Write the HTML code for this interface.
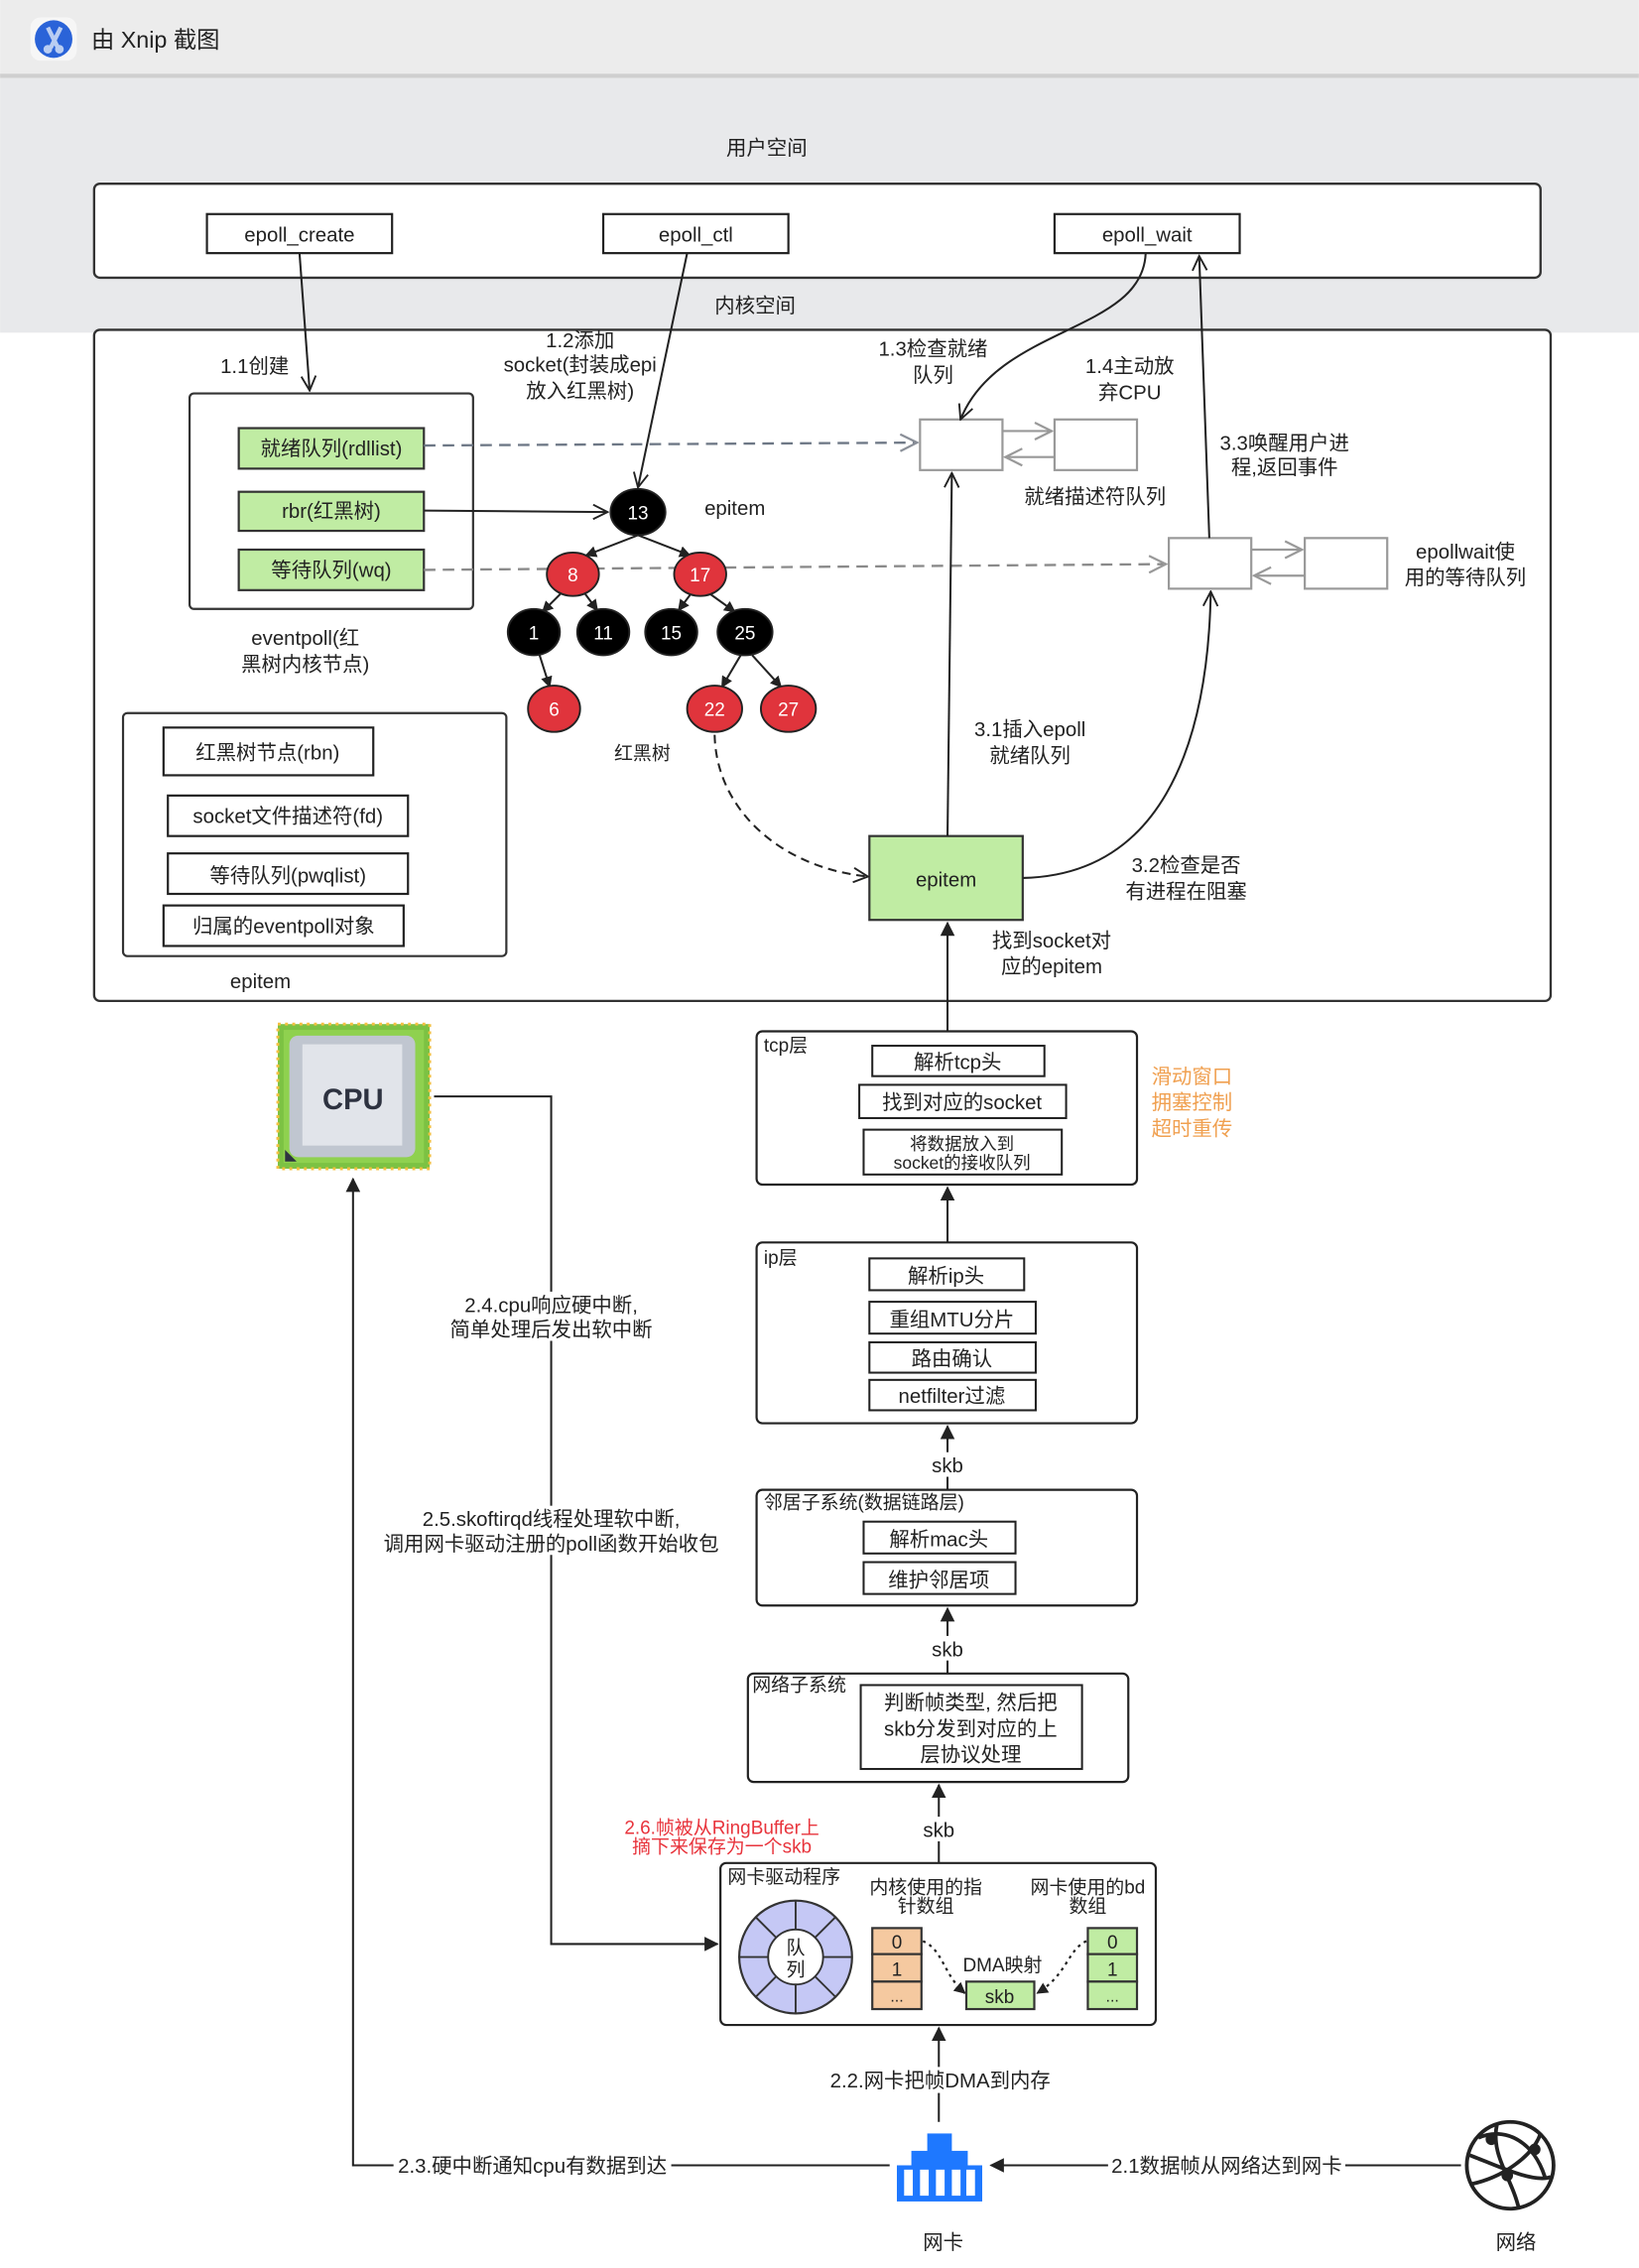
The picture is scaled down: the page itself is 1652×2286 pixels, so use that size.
<!DOCTYPE html>
<html><head><meta charset="utf-8"><style>
html,body{margin:0;padding:0;background:#fff;}
svg{display:block}
text{font-family:"Liberation Sans","Noto Sans CJK SC",sans-serif;fill:#222;}
</style></head><body>
<svg width="1652" height="2286" viewBox="0 0 1133 1568" xmlns="http://www.w3.org/2000/svg">
<defs>
<marker id="o" viewBox="0 0 12 12" refX="11" refY="6" markerWidth="12" markerHeight="12" markerUnits="userSpaceOnUse" orient="auto"><path d="M1,1 L11,6 L1,11" fill="none" stroke="#222" stroke-width="1.3"/></marker>
<marker id="og" viewBox="0 0 12 12" refX="11" refY="6" markerWidth="14" markerHeight="14" markerUnits="userSpaceOnUse" orient="auto"><path d="M1,1 L11,6 L1,11" fill="none" stroke="#8a8f98" stroke-width="1.3"/></marker>
<marker id="ogr" viewBox="0 0 12 12" refX="11" refY="6" markerWidth="14" markerHeight="14" markerUnits="userSpaceOnUse" orient="auto"><path d="M1,1 L11,6 L1,11" fill="none" stroke="#999" stroke-width="1.3"/></marker>
<marker id="f" viewBox="0 0 10 10" refX="9" refY="5" markerWidth="10" markerHeight="10" markerUnits="userSpaceOnUse" orient="auto"><path d="M0,0 L10,5 L0,10 z" fill="#222"/></marker>
<marker id="fs" viewBox="0 0 10 10" refX="9" refY="5" markerWidth="8" markerHeight="8" markerUnits="userSpaceOnUse" orient="auto"><path d="M0,0 L10,5 L0,10 z" fill="#222"/></marker>
</defs>
<!-- backgrounds -->
<rect x="0" y="0" width="1133" height="52" fill="#ececec"/>
<rect x="0" y="51" width="1133" height="3" fill="#cfcfcf"/>
<rect x="0" y="54" width="1133" height="176" fill="#e8e9eb"/>
<rect x="21" y="12" width="32" height="30" rx="7" fill="#f6f6f6"/>
<circle cx="37" cy="27" r="13" fill="#2a63d8"/>
<path d="M33,19 L40,33 M42,19 L35,33" stroke="#b9cdf2" stroke-width="3"/>
<circle cx="33" cy="34" r="3" fill="#b9cdf2"/><circle cx="41" cy="34" r="3" fill="#b9cdf2"/>
<text x="63" y="33" font-size="16">由 Xnip 截图</text>

<text x="530" y="107" font-size="14" text-anchor="middle">用户空间</text>
<rect x="65" y="127" width="1000" height="65" rx="4" fill="#fff" stroke="#333" stroke-width="1.6"/>
<rect x="143" y="148" width="128" height="27" fill="#fff" stroke="#222" stroke-width="1.5"/>
<text x="207" y="167" font-size="14" text-anchor="middle">epoll_create</text>
<rect x="417" y="148" width="128" height="27" fill="#fff" stroke="#222" stroke-width="1.5"/>
<text x="481" y="167" font-size="14" text-anchor="middle">epoll_ctl</text>
<rect x="729" y="148" width="128" height="27" fill="#fff" stroke="#222" stroke-width="1.5"/>
<text x="793" y="167" font-size="14" text-anchor="middle">epoll_wait</text>
<text x="522" y="216" font-size="14" text-anchor="middle">内核空间</text>
<rect x="65" y="228" width="1007" height="464" rx="4" fill="#fff" stroke="#333" stroke-width="1.6"/>

<!-- eventpoll -->
<rect x="131" y="272" width="196" height="149" rx="3" fill="#fff" stroke="#333" stroke-width="1.5"/>
<rect x="165" y="296" width="128" height="28" fill="#c0eca3" stroke="#333" stroke-width="1.5"/>
<text x="229" y="315" font-size="14" text-anchor="middle">就绪队列(rdllist)</text>
<rect x="165" y="340" width="128" height="27" fill="#c0eca3" stroke="#333" stroke-width="1.5"/>
<text x="229" y="358" font-size="14" text-anchor="middle">rbr(红黑树)</text>
<rect x="165" y="380" width="128" height="28" fill="#c0eca3" stroke="#333" stroke-width="1.5"/>
<text x="229" y="399" font-size="14" text-anchor="middle">等待队列(wq)</text>
<text x="211" y="446" font-size="14" text-anchor="middle">eventpoll(红</text>
<text x="211" y="464" font-size="14" text-anchor="middle">黑树内核节点)</text>

<!-- epitem struct -->
<rect x="85" y="493" width="265" height="168" rx="3" fill="#fff" stroke="#333" stroke-width="1.5"/>
<rect x="113" y="503" width="145" height="33" fill="#fff" stroke="#222" stroke-width="1.5"/>
<text x="185" y="525" font-size="14" text-anchor="middle">红黑树节点(rbn)</text>
<rect x="116" y="550" width="166" height="28" fill="#fff" stroke="#222" stroke-width="1.5"/>
<text x="199" y="569" font-size="14" text-anchor="middle">socket文件描述符(fd)</text>
<rect x="116" y="590" width="166" height="28" fill="#fff" stroke="#222" stroke-width="1.5"/>
<text x="199" y="610" font-size="14" text-anchor="middle">等待队列(pwqlist)</text>
<rect x="113" y="626" width="166" height="28" fill="#fff" stroke="#222" stroke-width="1.5"/>
<text x="196" y="645" font-size="14" text-anchor="middle">归属的eventpoll对象</text>
<text x="180" y="683" font-size="14" text-anchor="middle">epitem</text>

<!-- tree edges -->
<g stroke="#222" stroke-width="1.4" fill="none">
<line x1="441" y1="370" x2="405" y2="384" marker-end="url(#fs)"/>
<line x1="441" y1="370" x2="477" y2="384" marker-end="url(#fs)"/>
<line x1="388" y1="410" x2="375" y2="423" marker-end="url(#fs)"/>
<line x1="404" y1="410" x2="413" y2="422" marker-end="url(#fs)"/>
<line x1="478" y1="410" x2="469" y2="422" marker-end="url(#fs)"/>
<line x1="490" y1="410" x2="508" y2="423" marker-end="url(#fs)"/>
<line x1="373" y1="453" x2="380" y2="475" marker-end="url(#fs)"/>
<line x1="512" y1="453" x2="499" y2="475" marker-end="url(#fs)"/>
<line x1="520" y1="453" x2="540" y2="475" marker-end="url(#fs)"/>
</g>
<!-- dashed lines -->
<line x1="293" y1="308" x2="634" y2="306" stroke="#6e7886" stroke-width="1.6" stroke-dasharray="8,5" marker-end="url(#og)"/>
<line x1="293" y1="394" x2="806" y2="390" stroke="#8a8a8a" stroke-width="1.6" stroke-dasharray="8,5" marker-end="url(#ogr)"/>
<line x1="293" y1="353" x2="420" y2="354" stroke="#222" stroke-width="1.4" marker-end="url(#o)"/>
<!-- nodes -->
<g font-size="13" text-anchor="middle" stroke="#222" stroke-width="1.3">
<ellipse cx="441" cy="354" rx="19" ry="16" fill="#000"/>
<ellipse cx="396" cy="397" rx="18" ry="15" fill="#e0343c"/>
<ellipse cx="484" cy="397" rx="18" ry="15" fill="#e0343c"/>
<ellipse cx="369" cy="437" rx="18" ry="16" fill="#000"/>
<ellipse cx="417" cy="437" rx="18" ry="16" fill="#000"/>
<ellipse cx="464" cy="437" rx="18" ry="16" fill="#000"/>
<ellipse cx="515" cy="437" rx="19" ry="16" fill="#000"/>
<ellipse cx="383" cy="490" rx="18" ry="16" fill="#e0343c"/>
<ellipse cx="494" cy="490" rx="19" ry="16" fill="#e0343c"/>
<ellipse cx="545" cy="490" rx="19" ry="16" fill="#e0343c"/>
</g>
<g font-size="13" text-anchor="middle" style="fill:#fff">
<text x="441" y="359" style="fill:#fff">13</text><text x="396" y="402" style="fill:#fff">8</text><text x="484" y="402" style="fill:#fff">17</text>
<text x="369" y="442" style="fill:#fff">1</text><text x="417" y="442" style="fill:#fff">11</text><text x="464" y="442" style="fill:#fff">15</text><text x="515" y="442" style="fill:#fff">25</text>
<text x="383" y="495" style="fill:#fff">6</text><text x="494" y="495" style="fill:#fff">22</text><text x="545" y="495" style="fill:#fff">27</text>
</g>
<text x="508" y="356" font-size="14" text-anchor="middle">epitem</text>
<text x="444" y="525" font-size="13" text-anchor="middle">红黑树</text>

<!-- ready queue -->
<rect x="636" y="290" width="57" height="35" fill="#fff" stroke="#999" stroke-width="1.5"/>
<rect x="729" y="290" width="57" height="35" fill="#fff" stroke="#999" stroke-width="1.5"/>
<line x1="693" y1="298" x2="727" y2="298" stroke="#999" stroke-width="1.5" marker-end="url(#ogr)"/>
<line x1="729" y1="316" x2="695" y2="316" stroke="#999" stroke-width="1.5" marker-end="url(#ogr)"/>
<text x="757" y="348" font-size="14" text-anchor="middle">就绪描述符队列</text>
<rect x="808" y="372" width="57" height="35" fill="#fff" stroke="#999" stroke-width="1.5"/>
<rect x="902" y="372" width="57" height="35" fill="#fff" stroke="#999" stroke-width="1.5"/>
<line x1="865" y1="380" x2="900" y2="380" stroke="#999" stroke-width="1.5" marker-end="url(#ogr)"/>
<line x1="902" y1="398" x2="867" y2="398" stroke="#999" stroke-width="1.5" marker-end="url(#ogr)"/>
<text x="1013" y="386" font-size="14" text-anchor="middle">epollwait使</text>
<text x="1013" y="404" font-size="14" text-anchor="middle">用的等待队列</text>

<!-- green epitem -->
<rect x="601" y="578" width="106" height="58" fill="#c0eca3" stroke="#333" stroke-width="1.5"/>
<text x="654" y="613" font-size="14" text-anchor="middle">epitem</text>

<!-- connectors -->
<g stroke="#222" stroke-width="1.4" fill="none">
<line x1="207" y1="175" x2="214" y2="270" marker-end="url(#o)"/>
<line x1="475" y1="175" x2="441" y2="337" marker-end="url(#o)"/>
<path d="M792,175 C790,230 690,225 664,290" marker-end="url(#o)"/>
<line x1="655" y1="578" x2="658" y2="327" marker-end="url(#o)"/>
<path d="M707,607 C800,605 835,520 837,409" marker-end="url(#o)"/>
<line x1="836" y1="372" x2="829" y2="177" marker-end="url(#o)"/>
<path d="M494,508 C495,560 540,600 600,606" stroke-dasharray="6,4" marker-end="url(#o)"/>
</g>
<text x="176" y="258" font-size="14" text-anchor="middle">1.1创建</text>
<text x="401" y="240" font-size="14" text-anchor="middle">1.2添加</text>
<text x="401" y="257" font-size="14" text-anchor="middle">socket(封装成epi</text>
<text x="401" y="275" font-size="14" text-anchor="middle">放入红黑树)</text>
<text x="645" y="246" font-size="14" text-anchor="middle">1.3检查就绪</text>
<text x="645" y="264" font-size="14" text-anchor="middle">队列</text>
<text x="781" y="258" font-size="14" text-anchor="middle">1.4主动放</text>
<text x="781" y="276" font-size="14" text-anchor="middle">弃CPU</text>
<text x="888" y="311" font-size="14" text-anchor="middle">3.3唤醒用户进</text>
<text x="888" y="328" font-size="14" text-anchor="middle">程,返回事件</text>
<text x="712" y="509" font-size="14" text-anchor="middle">3.1插入epoll</text>
<text x="712" y="527" font-size="14" text-anchor="middle">就绪队列</text>
<text x="820" y="603" font-size="14" text-anchor="middle">3.2检查是否</text>
<text x="820" y="621" font-size="14" text-anchor="middle">有进程在阻塞</text>
<text x="727" y="655" font-size="14" text-anchor="middle">找到socket对</text>
<text x="727" y="673" font-size="14" text-anchor="middle">应的epitem</text>

<!-- tcp -->
<line x1="655" y1="713" x2="655" y2="638" stroke="#222" stroke-width="1.4" marker-end="url(#f)"/>
<rect x="523" y="713" width="263" height="106" rx="4" fill="#fff" stroke="#222" stroke-width="1.5"/>
<text x="528" y="727" font-size="13">tcp层</text>
<rect x="603" y="723" width="119" height="21" fill="#fff" stroke="#222" stroke-width="1.4"/>
<text x="662" y="739" font-size="14" text-anchor="middle">解析tcp头</text>
<rect x="594" y="750" width="143" height="23" fill="#fff" stroke="#222" stroke-width="1.4"/>
<text x="665" y="767" font-size="14" text-anchor="middle">找到对应的socket</text>
<rect x="597" y="781" width="137" height="31" fill="#fff" stroke="#222" stroke-width="1.4"/>
<text x="665" y="795" font-size="12" text-anchor="middle">将数据放入到</text>
<text x="665" y="808" font-size="12" text-anchor="middle">socket的接收队列</text>
<text x="796" y="749" font-size="14" style="fill:#f0a050">滑动窗口</text>
<text x="796" y="767" font-size="14" style="fill:#f0a050">拥塞控制</text>
<text x="796" y="785" font-size="14" style="fill:#f0a050">超时重传</text>

<!-- ip -->
<line x1="655" y1="859" x2="655" y2="821" stroke="#222" stroke-width="1.4" marker-end="url(#f)"/>
<rect x="523" y="859" width="263" height="125" rx="4" fill="#fff" stroke="#222" stroke-width="1.5"/>
<text x="528" y="874" font-size="13">ip层</text>
<rect x="601" y="870" width="107" height="22" fill="#fff" stroke="#222" stroke-width="1.4"/>
<text x="654" y="887" font-size="14" text-anchor="middle">解析ip头</text>
<rect x="601" y="900" width="115" height="22" fill="#fff" stroke="#222" stroke-width="1.4"/>
<text x="658" y="917" font-size="14" text-anchor="middle">重组MTU分片</text>
<rect x="601" y="928" width="115" height="21" fill="#fff" stroke="#222" stroke-width="1.4"/>
<text x="658" y="944" font-size="14" text-anchor="middle">路由确认</text>
<rect x="601" y="954" width="115" height="21" fill="#fff" stroke="#222" stroke-width="1.4"/>
<text x="658" y="970" font-size="14" text-anchor="middle">netfilter过滤</text>

<!-- neighbor -->
<line x1="655" y1="1030" x2="655" y2="986" stroke="#222" stroke-width="1.4" marker-end="url(#f)"/>
<rect x="640" y="1004" width="30" height="17" fill="#fff"/>
<text x="655" y="1018" font-size="14" text-anchor="middle">skb</text>
<rect x="523" y="1030" width="263" height="80" rx="4" fill="#fff" stroke="#222" stroke-width="1.5"/>
<text x="528" y="1043" font-size="13">邻居子系统(数据链路层)</text>
<rect x="597" y="1052" width="105" height="22" fill="#fff" stroke="#222" stroke-width="1.4"/>
<text x="649" y="1069" font-size="14" text-anchor="middle">解析mac头</text>
<rect x="597" y="1080" width="105" height="22" fill="#fff" stroke="#222" stroke-width="1.4"/>
<text x="649" y="1097" font-size="14" text-anchor="middle">维护邻居项</text>

<!-- net subsystem -->
<line x1="655" y1="1157" x2="655" y2="1112" stroke="#222" stroke-width="1.4" marker-end="url(#f)"/>
<rect x="640" y="1131" width="30" height="17" fill="#fff"/>
<text x="655" y="1145" font-size="14" text-anchor="middle">skb</text>
<rect x="517" y="1157" width="263" height="75" rx="4" fill="#fff" stroke="#222" stroke-width="1.5"/>
<text x="520" y="1169" font-size="13">网络子系统</text>
<rect x="595" y="1165" width="153" height="58" fill="#fff" stroke="#222" stroke-width="1.4"/>
<text x="671" y="1182" font-size="14" text-anchor="middle">判断帧类型, 然后把</text>
<text x="671" y="1200" font-size="14" text-anchor="middle">skb分发到对应的上</text>
<text x="671" y="1218" font-size="14" text-anchor="middle">层协议处理</text>

<!-- driver -->
<line x1="649" y1="1288" x2="649" y2="1234" stroke="#222" stroke-width="1.4" marker-end="url(#f)"/>
<rect x="634" y="1256" width="30" height="17" fill="#fff"/>
<text x="649" y="1270" font-size="14" text-anchor="middle">skb</text>
<text x="499" y="1268" font-size="13" text-anchor="middle" style="fill:#e8343c">2.6.帧被从RingBuffer上</text>
<text x="499" y="1281" font-size="13" text-anchor="middle" style="fill:#e8343c">摘下来保存为一个skb</text>
<rect x="498" y="1288" width="301" height="112" rx="4" fill="#fff" stroke="#222" stroke-width="1.5"/>
<text x="503" y="1302" font-size="13">网卡驱动程序</text>
<text x="640" y="1309" font-size="13" text-anchor="middle">内核使用的指</text>
<text x="640" y="1322" font-size="13" text-anchor="middle">针数组</text>
<text x="752" y="1309" font-size="13" text-anchor="middle">网卡使用的bd</text>
<text x="752" y="1322" font-size="13" text-anchor="middle">数组</text>
<circle cx="550" cy="1353" r="39" fill="#c5c8f5" stroke="#333" stroke-width="1.5"/>
<g stroke="#333" stroke-width="1.3">
<line x1="550" y1="1314" x2="550" y2="1392"/><line x1="511" y1="1353" x2="589" y2="1353"/>
<line x1="522" y1="1325" x2="578" y2="1381"/><line x1="578" y1="1325" x2="522" y2="1381"/>
</g>
<circle cx="550" cy="1353" r="19" fill="#fff" stroke="#333" stroke-width="1.3"/>
<text x="550" y="1351" font-size="13" text-anchor="middle">队</text>
<text x="550" y="1366" font-size="13" text-anchor="middle">列</text>
<g stroke="#333" stroke-width="1.5">
<rect x="603" y="1333" width="34" height="18" fill="#f5c9a0"/><rect x="603" y="1351" width="34" height="19" fill="#f5c9a0"/><rect x="603" y="1370" width="34" height="19" fill="#f5c9a0"/>
<rect x="752" y="1333" width="34" height="18" fill="#c0eca3"/><rect x="752" y="1351" width="34" height="19" fill="#c0eca3"/><rect x="752" y="1370" width="34" height="19" fill="#c0eca3"/>
<rect x="668" y="1370" width="47" height="19" fill="#c0eca3"/>
</g>
<text x="620" y="1347" font-size="13" text-anchor="middle">0</text><text x="620" y="1366" font-size="13" text-anchor="middle">1</text><text x="620" y="1384" font-size="11" text-anchor="middle">...</text>
<text x="769" y="1347" font-size="13" text-anchor="middle">0</text><text x="769" y="1366" font-size="13" text-anchor="middle">1</text><text x="769" y="1384" font-size="11" text-anchor="middle">...</text>
<text x="691" y="1385" font-size="13" text-anchor="middle">skb</text>
<text x="693" y="1363" font-size="13" text-anchor="middle">DMA映射</text>
<path d="M638,1342 C652,1348 652,1365 667,1378" fill="none" stroke="#222" stroke-width="1.5" stroke-dasharray="2,3" marker-end="url(#fs)"/>
<path d="M751,1342 C738,1348 738,1365 717,1378" fill="none" stroke="#222" stroke-width="1.5" stroke-dasharray="2,3" marker-end="url(#fs)"/>

<!-- DMA -->
<line x1="649" y1="1467" x2="649" y2="1402" stroke="#222" stroke-width="1.4" marker-end="url(#f)"/>
<rect x="570" y="1429" width="160" height="18" fill="#fff"/>
<text x="650" y="1443" font-size="14" text-anchor="middle">2.2.网卡把帧DMA到内存</text>

<!-- NIC -->
<rect x="641" y="1475" width="17" height="13" fill="#1e78ff"/>
<rect x="630" y="1487" width="39" height="11" fill="#1e78ff"/>
<rect x="620" y="1497" width="59" height="25" fill="#1e78ff"/>
<g fill="#fff"><rect x="625" y="1500" width="6" height="18"/><rect x="636" y="1500" width="6" height="18"/><rect x="647" y="1500" width="6" height="18"/><rect x="658" y="1500" width="6" height="18"/><rect x="668" y="1500" width="6" height="18"/></g>
<text x="652" y="1555" font-size="14" text-anchor="middle">网卡</text>
<!-- globe -->
<g fill="none" stroke="#222" stroke-width="2.6">
<circle cx="1044" cy="1497" r="30"/>
<path d="M1016,1490 C1030,1495 1060,1510 1072,1505"/>
<path d="M1017,1510 C1040,1505 1060,1490 1065,1475"/>
<path d="M1035,1468 C1030,1490 1045,1505 1050,1527"/>
<path d="M1022,1478 C1040,1470 1060,1480 1068,1505"/>
</g>
<circle cx="1031" cy="1479" r="4" fill="#222"/><circle cx="1061" cy="1486" r="4" fill="#222"/><circle cx="1042" cy="1504" r="4" fill="#222"/>
<text x="1048" y="1555" font-size="14" text-anchor="middle">网络</text>

<line x1="1010" y1="1497" x2="685" y2="1497" stroke="#222" stroke-width="1.4" marker-end="url(#f)"/>
<rect x="766" y="1488" width="164" height="18" fill="#fff"/>
<text x="848" y="1502" font-size="14" text-anchor="middle">2.1数据帧从网络达到网卡</text>
<polyline points="615,1497 244,1497 244,815" fill="none" stroke="#222" stroke-width="1.4" marker-end="url(#f)"/>
<rect x="272" y="1488" width="192" height="18" fill="#fff"/>
<text x="368" y="1502" font-size="14" text-anchor="middle">2.3.硬中断通知cpu有数据到达</text>

<!-- CPU -->
<rect x="192" y="708" width="105" height="100" fill="#7cc243" stroke="#f5c042" stroke-width="2" stroke-dasharray="2,3"/>
<rect x="196" y="712" width="97" height="92" fill="#8fd14f"/>
<rect x="200" y="716" width="87" height="84" rx="6" fill="#c0c6d0"/>
<rect x="209" y="722" width="69" height="70" fill="#e1e4ea"/>
<path d="M197,795 L197,803 L205,803 z" fill="#2d3240"/>
<text x="244" y="767" font-size="20" font-weight="bold" text-anchor="middle" style="fill:#2d3240">CPU</text>
<polyline points="300,758 381,758 381,1344 496,1344" fill="none" stroke="#222" stroke-width="1.4" marker-end="url(#f)"/>
<rect x="308" y="893" width="148" height="34" fill="#fff"/>
<text x="381" y="907" font-size="14" text-anchor="middle">2.4.cpu响应硬中断,</text>
<text x="381" y="924" font-size="14" text-anchor="middle">简单处理后发出软中断</text>
<rect x="260" y="1041" width="244" height="34" fill="#fff"/>
<text x="381" y="1055" font-size="14" text-anchor="middle">2.5.skoftirqd线程处理软中断,</text>
<text x="381" y="1072" font-size="14" text-anchor="middle">调用网卡驱动注册的poll函数开始收包</text>
</svg>
</body></html>
